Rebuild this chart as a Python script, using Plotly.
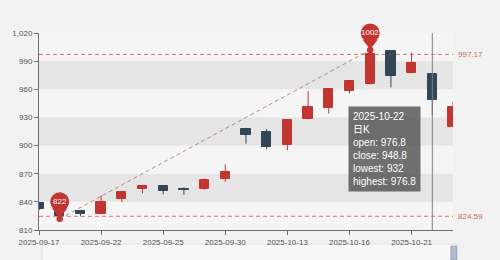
import plotly.graph_objects as go

# ---------------- data ----------------
dates = ["2025-09-17", "2025-09-18", "2025-09-19", "2025-09-22", "2025-09-23",
         "2025-09-24", "2025-09-25", "2025-09-26", "2025-09-29", "2025-09-30",
         "2025-10-09", "2025-10-10", "2025-10-13", "2025-10-14", "2025-10-15",
         "2025-10-16", "2025-10-17", "2025-10-20", "2025-10-21", "2025-10-22",
         "2025-10-23"]
open_ = [839.2, 831.5, 830.0, 827.0, 843.0, 853.5, 856.5, 853.6, 853.5, 864.5,
         918.0, 914.0, 901.0, 928.0, 940.0, 958.0, 966.0, 1000.5, 977.0, 976.8, 920.0]
close = [832.0, 824.59, 827.0, 840.0, 851.0, 856.5, 852.0, 853.0, 863.0, 872.0,
         911.5, 898.0, 927.0, 941.0, 960.0, 969.0, 997.17, 974.0, 988.0, 948.8, 941.0]
low = [831.0, 822.0, 824.5, 826.5, 840.0, 849.0, 848.0, 847.5, 853.0, 861.5,
       902.0, 896.0, 895.0, 928.0, 934.0, 955.5, 965.0, 962.0, 977.0, 932.0, 920.0]
high = [840.0, 833.0, 830.5, 847.0, 851.0, 857.0, 857.0, 855.5, 865.0, 880.0,
        919.0, 917.5, 927.0, 958.0, 960.0, 969.0, 1002.0, 1000.5, 999.0, 976.8, 946.5]

x_tick_labels = ["2025-09-17", "2025-09-22", "2025-09-25", "2025-09-30",
                 "2025-10-13", "2025-10-16", "2025-10-21"]
y_tick_values = [810, 840, 870, 900, 930, 960, 990, 1020]
y_tick_labels = ["810", "840", "870", "900", "930", "960", "990", "1,020"]

tooltip_date = "2025-10-22"
series_name = "日K"

# ---------------- styles ----------------
UP = "#c23531"
DOWN = "#314656"
FONT = "Liberation Sans, Arial, Noto Sans CJK SC, sans-serif"
AXIS = "#6e6e6e"

idx = list(range(len(dates)))
colors = [UP if c >= o else DOWN for o, c in zip(open_, close)]

fig = go.Figure()

# wicks
for col in (UP, DOWN):
    xs, ys = [], []
    for i in idx:
        if colors[i] == col:
            xs += [i, i, None]
            ys += [low[i], high[i], None]
    fig.add_trace(go.Scatter(x=xs, y=ys, mode="lines", line=dict(color=col, width=1),
                             cliponaxis=False, hoverinfo="skip", showlegend=False))

# bodies
fig.add_trace(go.Bar(
    x=idx,
    base=[min(o, c) for o, c in zip(open_, close)],
    y=[max(abs(c - o), 0.4) for o, c in zip(open_, close)],
    width=0.45,
    marker=dict(color=colors, line=dict(color=colors, width=1)),
    cliponaxis=False, hoverinfo="skip", showlegend=False,
))

# mark points (pins) at lowest low and highest high
i_lo = low.index(min(low))
i_hi = high.index(max(high))
pin_x = [i_lo, i_hi]
pin_y = [low[i_lo], high[i_hi]]
# head
fig.add_trace(go.Scatter(x=pin_x, y=pin_y, mode="markers", cliponaxis=False,
                         marker=dict(symbol="circle", size=19, color=UP, angle=180,
                                     standoff=17, line=dict(width=0)),
                         hoverinfo="skip", showlegend=False))
# neck
fig.add_trace(go.Scatter(x=pin_x, y=pin_y, mode="markers", cliponaxis=False,
                         marker=dict(symbol="triangle-up", size=13, color=UP, angle=180,
                                     standoff=7, line=dict(width=0)),
                         hoverinfo="skip", showlegend=False))
# dot
fig.add_trace(go.Scatter(x=pin_x, y=pin_y, mode="markers", cliponaxis=False,
                         marker=dict(symbol="circle", size=6.5, color=UP, line=dict(width=0)),
                         hoverinfo="skip", showlegend=False))

shapes = []
# split areas
for k in range(len(y_tick_values) - 1):
    if k % 2 == 1:
        shapes.append(dict(type="rect", xref="x domain", yref="y",
                           x0=0, x1=1, y0=y_tick_values[k], y1=y_tick_values[k + 1],
                           fillcolor="#e5e5e5", line=dict(width=0), layer="below"))

# mark lines (min/max close)
min_close, max_close = min(close), max(close)
for v in (max_close, min_close):
    shapes.append(dict(type="line", xref="x domain", yref="y", x0=0, x1=1, y0=v, y1=v,
                       line=dict(color="rgba(194,53,49,0.65)", width=1, dash="4px,3px"),
                       layer="above"))

# line from lowest to highest
shapes.append(dict(type="line", xref="x", yref="y", x0=i_lo, y0=low[i_lo],
                   x1=i_hi, y1=high[i_hi],
                   line=dict(color="rgba(160,95,105,0.7)", width=1, dash="4px,3px"),
                   layer="above"))

# crosshair
i_tt = dates.index(tooltip_date)
shapes.append(dict(type="line", xref="x", yref="y domain", x0=i_tt, x1=i_tt, y0=0, y1=1,
                   line=dict(color="#808080", width=1), layer="above"))

# dataZoom slider decoration
shapes.append(dict(type="rect", xref="paper", yref="paper", x0=0.007, x1=1.01,
                   y0=-0.17, y1=-0.071, fillcolor="#f7f7f7",
                   line=dict(color="#e2e2e2", width=1), layer="below"))
shapes.append(dict(type="rect", xref="paper", yref="paper", x0=0.995, x1=1.009,
                   y0=-0.152, y1=-0.082, fillcolor="#aebbcc",
                   line=dict(color="#9aa8ba", width=1), layer="above"))

annotations = []
for v in (max_close, min_close):
    annotations.append(dict(xref="paper", yref="y", x=1, y=v, xanchor="left", xshift=3,
                            text=f"{v:g}", showarrow=False,
                            font=dict(size=8, color="#c86a6a", family=FONT)))
for (pi, pv) in zip(pin_x, pin_y):
    annotations.append(dict(xref="x", yref="y", x=pi, y=pv, yshift=17,
                            text=f"{pv:g}", showarrow=False,
                            font=dict(size=8, color="white", family=FONT)))

tt_text = "<br>".join([
    tooltip_date,
    series_name,
    f"open: {open_[i_tt]:g}",
    f"close: {close[i_tt]:g}",
    f"lowest: {low[i_tt]:g}",
    f"highest: {high[i_tt]:g}",
])
annotations.append(dict(xref="x", yref="paper", x=i_tt, y=0.627, xanchor="right",
                        yanchor="top", xshift=-11, text=tt_text, showarrow=False,
                        align="left", bgcolor="rgba(70,70,70,0.76)", borderpad=4,
                        font=dict(size=10, color="white", family=FONT)))

fig.update_layout(
    width=500, height=260,
    margin=dict(l=37, r=47, t=33, b=30),
    paper_bgcolor="#f2f2f2",
    plot_bgcolor="#f5f5f5",
    shapes=shapes,
    annotations=annotations,
    showlegend=False,
    bargap=0,
    font=dict(family=FONT, size=8, color="#555"),
    xaxis=dict(range=[0, len(dates) - 1],
               tickvals=[dates.index(d) for d in x_tick_labels],
               ticktext=x_tick_labels,
               showline=True, linecolor=AXIS, linewidth=1,
               ticks="outside", ticklen=4, tickcolor=AXIS,
               showgrid=False, zeroline=False, fixedrange=True,
               tickfont=dict(size=8, color="#555")),
    yaxis=dict(range=[y_tick_values[0], y_tick_values[-1]],
               tickvals=y_tick_values, ticktext=y_tick_labels,
               showline=True, linecolor=AXIS, linewidth=1,
               ticks="outside", ticklen=4, tickcolor=AXIS,
               showgrid=False, zeroline=False, fixedrange=True,
               tickfont=dict(size=8, color="#555")),
)

fig.write_html("out.html")
